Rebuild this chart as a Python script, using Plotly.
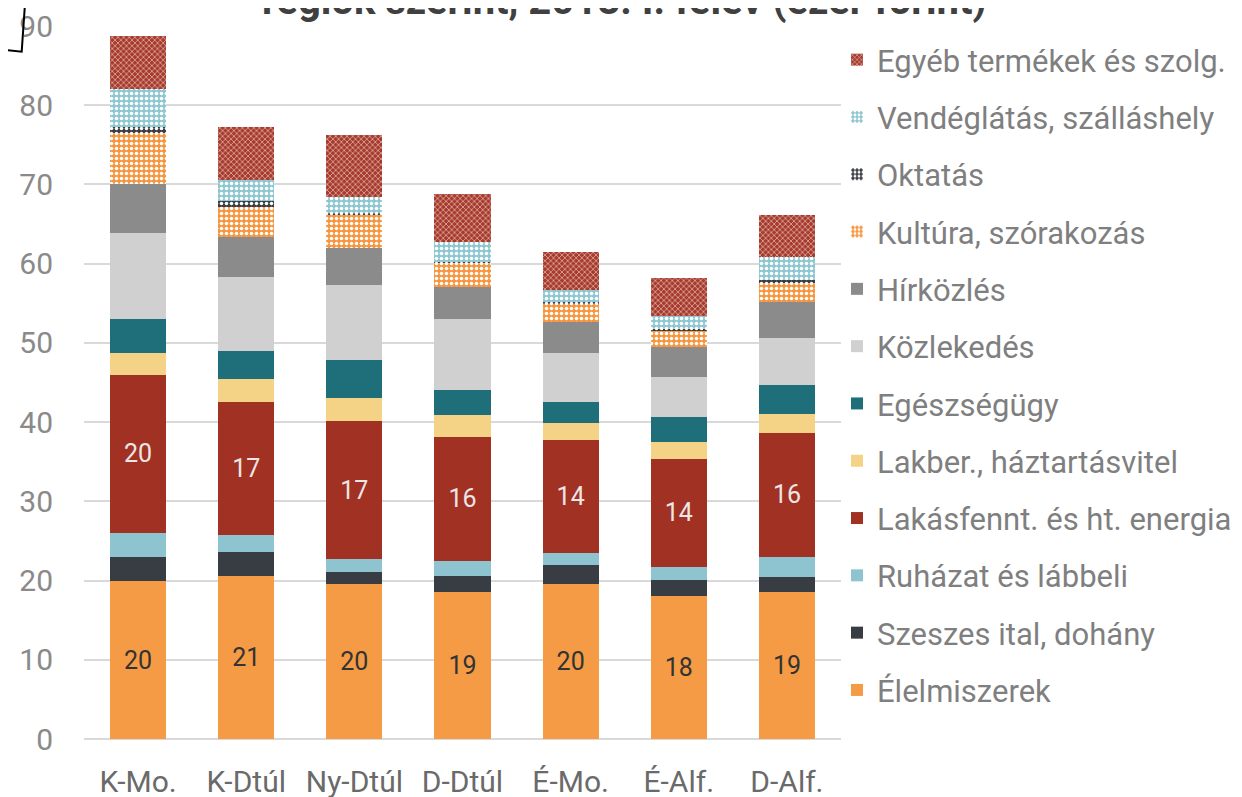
import plotly.graph_objects as go

categories = ["K-Mo.", "K-Dtúl", "Ny-Dtúl", "D-Dtúl", "É-Mo.", "É-Alf.", "D-Alf."]

elelmiszerek = [19.9, 20.6, 19.6, 18.6, 19.6, 18.0, 18.6]
szeszes = [3.1, 3.0, 1.5, 2.0, 2.4, 2.1, 1.8]
ruhazat = [3.0, 2.1, 1.6, 1.9, 1.5, 1.6, 2.6]
lakasfennt = [20.0, 16.8, 17.4, 15.6, 14.3, 13.7, 15.6]
lakber = [2.7, 2.9, 2.9, 2.8, 2.1, 2.1, 2.4]
egeszseg = [4.3, 3.6, 4.9, 3.2, 2.7, 3.2, 3.7]
kozlekedes = [10.9, 9.3, 9.4, 8.9, 6.1, 5.0, 5.9]
hirkozles = [6.1, 5.1, 4.7, 4.0, 4.0, 3.8, 4.5]
kultura = [6.5, 3.7, 4.1, 3.1, 2.2, 2.1, 2.5]
oktatas = [0.8, 0.8, 0.3, 0.1, 0.3, 0.1, 0.4]
vendeglatas = [4.8, 2.7, 2.0, 2.5, 1.5, 1.7, 2.8]
egyeb = [6.6, 6.7, 7.8, 6.1, 4.8, 4.8, 5.3]

title_text = "régiók szerint, 2018. I. félév (ezer forint)"

series = [
    ("Élelmiszerek", elelmiszerek, "#F59B45", None, "#333333"),
    ("Szeszes ital, dohány", szeszes, "#383C43", None, None),
    ("Ruházat és lábbeli", ruhazat, "#8EC4CF", None, None),
    ("Lakásfennt. és ht. energia", lakasfennt, "#A13122", None, "#EDE6E6"),
    ("Lakber., háztartásvitel", lakber, "#F4D386", None, None),
    ("Egészségügy", egeszseg, "#1F6F7B", None, None),
    ("Közlekedés", kozlekedes, "#D0D0D0", None, None),
    ("Hírközlés", hirkozles, "#8B8B8B", None, None),
    ("Kultúra, szórakozás", kultura, "#F7963F", ".", None),
    ("Oktatás", oktatas, "#3A3D44", ".", None),
    ("Vendéglátás, szálláshely", vendeglatas, "#8EC7D1", ".", None),
    ("Egyéb termékek és szolg.", egyeb, "#A83A2C", "x", None),
]

fig = go.Figure()
n = len(series)
for i, (name, vals, color, pat, lblcolor) in enumerate(series):
    marker = dict(color=color, line=dict(width=0))
    if pat:
        marker["pattern"] = dict(shape=pat, fgcolor="white", bgcolor=color,
                                 size=5 if pat == "." else 4,
                                 solidity=0.4 if pat == "." else 0.22,
                                 fillmode="replace")
    kw = {}
    if lblcolor:
        kw = dict(text=[f"{round(v)}" for v in vals], textposition="inside",
                  insidetextanchor="middle", textangle=0,
                  textfont=dict(family="Roboto", size=25, color=lblcolor))
    fig.add_trace(go.Bar(x=categories, y=vals, name=name, marker=marker,
                         legendgroup=f"g{i}", legendrank=100 + (n - i),
                         hoverinfo="skip", **kw))

# page is offset by the 8px default body margin
OFF = 8
W, H = 1242, 797
L = 84 - OFF
T = 26 - OFF
R = W - (841 - OFF)
B = H - (739.4 - OFF)
pw, ph = W - L - R, H - T - B

def px_x(x):
    return (x - OFF - L) / pw

def px_y(y):
    return (H - B - (y - OFF)) / ph

fig.update_layout(
    width=W, height=H,
    barmode="stack", bargap=0.48,
    margin=dict(l=L, r=R, t=T, b=B, autoexpand=False),
    plot_bgcolor="white", paper_bgcolor="white",
    font=dict(family="Roboto", color="#7F7F7F"),
    legend=dict(
        traceorder="grouped", x=px_x(837), xanchor="left", y=px_y(33), yanchor="top",
        font=dict(family="Roboto", size=31, color="#7F7F7F"),
        tracegroupgap=14, bgcolor="rgba(0,0,0,0)", itemclick=False,
    ),
    xaxis=dict(showgrid=False, tickfont=dict(size=30, color="#6A6A6A"),
               ticklabelstandoff=22, showline=False),
    yaxis=dict(range=[0, 90], dtick=10, showgrid=True, gridcolor="#D9D9D9", gridwidth=1.5,
               zeroline=True, zerolinecolor="#D9D9D9", zerolinewidth=1.5,
               tickfont=dict(size=30, color="#8A8A8A"), ticklabelstandoff=30),
    annotations=[dict(text=f"<b>{title_text}</b>", xref="paper", yref="paper",
                      x=px_x(624), y=px_y(0), xanchor="center", yanchor="middle",
                      showarrow=False, font=dict(family="Roboto", size=40, color="#404040"))],
    shapes=[dict(type="path", xref="paper", yref="paper", layer="above",
                 path=f"M{px_x(25.6)},{px_y(-5)} L{px_x(21.7)},{px_y(51.7)} L{px_x(-5)},{px_y(49)}",
                 line=dict(color="black", width=2))],
)

fig.write_html("out.html")
